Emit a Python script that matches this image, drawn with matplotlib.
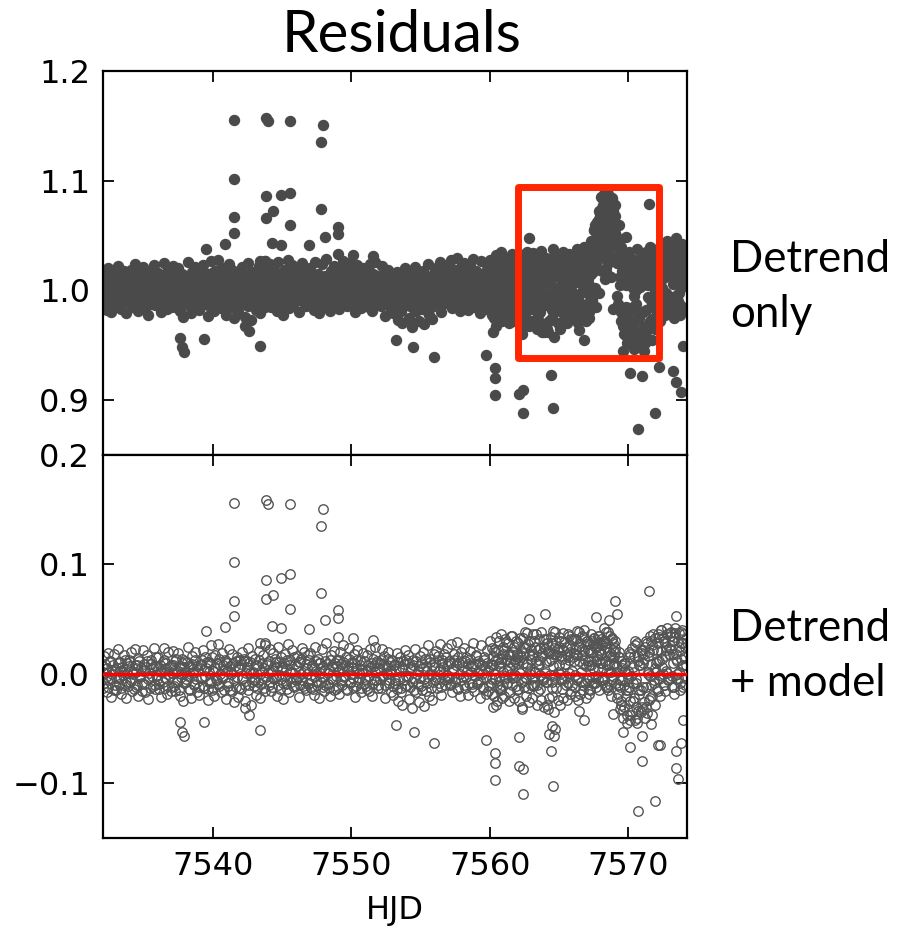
import numpy as np
import matplotlib.pyplot as plt
from matplotlib.patches import Rectangle

# ----------------------------
# Light curve
# times: HJD - 2457500 ; flux / residual in parts per thousand
# interleaved exposure sets (a, b, c); set c only covers the last two weeks
# ----------------------------
t_off_a = [
    32.02, 32.1, 32.18, 32.27, 32.35, 32.43, 32.52, 32.6, 32.68, 32.77, 32.85, 32.93,
    33.01, 33.09, 33.17, 33.26, 33.34, 33.42, 33.5, 33.59, 33.67, 33.76, 33.84, 33.97,
    34.05, 34.13, 34.2, 34.28, 34.37, 34.45, 34.53, 34.62, 34.7, 34.78, 34.87, 34.95,
    35.03, 35.11, 35.19, 35.27, 35.35, 35.44, 35.52, 35.7, 35.78, 35.85, 35.92, 35.98,
    36.06, 36.14, 36.22, 36.31, 36.39, 36.47, 36.56, 36.64, 36.72, 36.8, 36.89, 36.97,
    37.04, 37.12, 37.2, 37.29, 37.37, 37.45, 37.53, 37.62, 37.7, 37.79, 37.87, 37.95,
    38.02, 38.1, 38.19, 38.27, 38.35, 38.43, 38.51, 38.6, 38.68, 38.76, 38.85, 38.93,
    39.05, 39.13, 39.21, 39.3, 39.38, 39.46, 39.54, 39.63, 39.71, 39.79, 39.88, 39.96,
    40.03, 40.11, 40.2, 40.28, 40.36, 40.44, 40.53, 40.61, 40.69, 40.77, 40.86, 40.94,
    41.02, 41.1, 41.18, 41.27, 41.35, 41.43, 41.52, 41.6, 41.68, 41.76, 41.85, 41.93,
    42.04, 42.12, 42.21, 42.29, 42.37, 42.45, 42.54, 42.62, 42.7, 42.78, 42.87, 42.95,
    43.03, 43.11, 43.19, 43.28, 43.36, 43.44, 43.52, 43.61, 43.69, 43.77, 43.86, 43.94,
    44.05, 44.13, 44.22, 44.3, 44.38, 44.46, 44.55, 44.63, 44.71, 44.79, 44.88, 44.96,
    45.02, 45.1, 45.19, 45.27, 45.35, 45.43, 45.52, 45.6, 45.68, 45.76, 45.85, 45.93,
    46.04, 46.12, 46.2, 46.29, 46.37, 46.45, 46.53, 46.62, 46.7, 46.78, 46.87, 46.95,
    47.03, 47.11, 47.2, 47.28, 47.36, 47.44, 47.53, 47.61, 47.69, 47.77, 47.86, 47.94,
    48.05, 48.13, 48.21, 48.3, 48.38, 48.46, 48.54, 48.63, 48.71, 48.79, 48.88, 48.96,
    49.02, 49.1, 49.18, 49.27, 49.35, 49.43, 49.52, 49.6, 49.68, 49.76, 49.85, 49.93,
    50.04, 50.12, 50.2, 50.29, 50.37, 50.45, 50.53, 50.62, 50.7, 50.78, 50.87, 50.95,
    51.03, 51.11, 51.19, 51.28, 51.36, 51.44, 51.52, 51.61, 51.69, 51.77, 51.86, 51.94,
    52.05, 52.13, 52.22, 52.3, 52.38, 52.46, 52.55, 52.63, 52.71, 52.79, 52.88, 52.96,
    53.02, 53.1, 53.19, 53.27, 53.35, 53.43, 53.52, 53.6, 53.68, 53.76, 53.85, 53.93,
    54.04, 54.12, 54.2, 54.29, 54.37, 54.45, 54.53, 54.62, 54.7, 54.78, 54.87, 54.95,
    55.03, 55.11, 55.19, 55.28, 55.36, 55.44, 55.52, 55.61, 55.69, 55.77, 55.86, 55.94,
    56.05, 56.13, 56.22, 56.3, 56.38, 56.46, 56.55, 56.63, 56.71, 56.79, 56.88, 56.96,
    57.02, 57.1, 57.19, 57.27, 57.35, 57.43, 57.52, 57.6, 57.68, 57.76, 57.85, 57.93,
    58.04, 58.12, 58.2, 58.29, 58.37, 58.45, 58.53, 58.62, 58.7, 58.78, 58.87, 58.95,
    59.03, 59.11, 59.19, 59.28, 59.36, 59.44, 59.52, 59.61, 59.69, 59.77, 59.86, 59.94,
    60.05, 60.13, 60.22, 60.3, 60.38, 60.46, 60.55, 60.63, 60.71, 60.79, 60.88, 60.96,
    61.02, 61.1, 61.19, 61.27, 61.35, 61.43, 61.52, 61.6, 61.68, 61.76, 61.85, 61.93,
    62.04, 62.12, 62.2, 62.29, 62.37, 62.45, 62.53, 62.62, 62.7, 62.78, 62.87, 62.95,
    63.03, 63.11, 63.19, 63.28, 63.36, 63.44, 63.52, 63.61, 63.69, 63.77, 63.86, 63.94,
    64.05, 64.13, 64.22, 64.3, 64.38, 64.46, 64.55, 64.63, 64.71, 64.79, 64.88, 64.96,
    65.02, 65.1, 65.19, 65.27, 65.35, 65.43, 65.52, 65.6, 65.68, 65.76, 65.85, 65.93,
    66.04, 66.12, 66.2, 66.29, 66.37, 66.45, 66.53, 66.62, 66.7, 66.78, 66.87, 66.95,
    67.02, 67.07, 67.13, 67.18, 67.24, 67.29, 67.35, 67.4, 67.46, 67.51, 67.57, 67.62,
    67.68, 67.73, 67.79, 67.84, 67.9, 67.95,
    68.02, 68.07, 68.13, 68.18, 68.24, 68.29, 68.35, 68.4, 68.46, 68.51, 68.57, 68.62,
    68.68, 68.73, 68.79, 68.84, 68.9, 68.95,
    69.03, 69.11, 69.19, 69.28, 69.36, 69.44, 69.52, 69.61, 69.69, 69.77, 69.86, 69.94,
    70.05, 70.13, 70.22, 70.3, 70.38, 70.46, 70.55, 70.63, 70.71, 70.79, 70.88, 70.96,
    71.02, 71.1, 71.19, 71.27, 71.35, 71.43, 71.52, 71.6, 71.68, 71.76, 71.85, 71.93,
    72.04, 72.12, 72.2, 72.29, 72.37, 72.45, 72.53, 72.62, 72.7, 72.78, 72.87, 72.95,
    73.03, 73.11, 73.19, 73.28, 73.36, 73.44, 73.52, 73.61, 73.69, 73.77, 73.86, 73.94,
    74.02, 74.1, 74.18,
]

flux_a_ppt = [
    8, -12, 15, 2, -18, 20, -5, 11, -20, 4, 17, -9,
    -14, 6, 22, -3, 12, -17, 1, 18, -8, -21, 9, 14,
    -6, 19, -15, 3, 24, -11, 7, -19, 13, 0, -7, 21,
    10, -16, 5, 18, -22, -2, 14, -10, 23, -13, 8, -4,
    16, -8, 2, -20, 12, 25, -12, 6, -17, 19, -1, 9,
    -11, 22, 4, -15, 15, -6, 20, -19, 1, 11, -24, 7,
    13, -4, 26, -13, 8, -21, 17, 3, -9, 21, -16, 5,
    -18, 10, -2, 23, -12, 16, 6, -23, 12, -7, 27, -14,
    4, -19, 18, -5, 28, -10, 9, -16, 20, -1, 14, -22,
    11, -7, 24, -14, 3, 19, -25, 8, -11, 16, -20, 6,
    -13, 21, -3, 13, -24, 7, 25, -9, 2, -27, 17, -5,
    15, -18, 9, -6, 22, -21, 4, 18, -12, 27, -2, 11,
    -9, 24, -15, 5, 20, -4, 12, -19, 26, 0, -13, 16,
    7, -22, 19, -8, 14, 28, -16, 3, -3, 23, -11, 10,
    -5, 17, -20, 12, 1, 25, -10, 21, -14, 6, 18, -7,
    20, -12, 8, -18, 26, 4, -6, 15, -21, 11, 24, -2,
    -15, 13, 29, -8, 5, -19, 18, 9, -4, 22, -13, 14,
    3, -17, 21, 10, -9, 27, -1, 16, -14, 7, 25, -6,
    12, -11, 19, -20, 6, 23, -3, 14, -16, 2, 20, -8,
    -10, 18, 5, -15, 24, 11, -19, 8, 26, -5, 13, -12,
    9, -14, 22, -2, 15, -23, 7, 19, -9, 0, -18, 12,
    -21, 6, -8, 17, -27, 3, 13, -15, -30, 10, 20, -4,
    -12, 15, -25, 4, -33, 11, -6, 21, -19, 1, -28, 14,
    8, -17, 18, -31, 5, -10, 24, -22, 12, -3, -26, 16,
    -7, 20, -14, 2, 26, -20, 9, -1, 17, -11, 23, -5,
    13, -9, 28, -16, 6, 19, -4, 30, -13, 11, -19, 21,
    -2, 25, -12, 16, 4, -18, 22, 8, -8, 29, -15, 10,
    18, -6, 11, -21, 27, 1, -11, 14, -17, 23, 5, -9,
    -14, 20, 2, -25, 15, -32, 9, 26, -19, 6, -28, 12,
    17, -10, 24, -3, 10, -22, 30, -16, 4, 19, -8, 13,
    -20, 7, 28, -35, 14, -12, 33, -26, 3, 21, -6, 16,
    11, -17, 25, -4, 31, -22, 8, 18, -30, 14, -9, 27,
    -13, 22, -38, 6, 29, -25, 12, -7, 34, -19, 17, 2,
    20, -11, 9, -28, 24, 3, -16, 31, -5, 15, -22, 26,
    7, -18, 28, 12, -9, 35, -24, 18, 4, 30, -14, 22,
    -12, 28, 5, -20, 34, 15, -8, 42, 20, 55, 2, 48,
    -15, 30, 62, -2, 50, 70,
    62, 18, 78, 35, 88, 10, 70, 85, 50, 25, 65, 40,
    80, 12, 58, 30, 72, 45,
    68, 30, -5, 45, 12, -20, 36, -32, 8, 22, -48, 15,
    -20, 15, -42, 2, -30, 24, -12, -48, 8, -25, 18, -38,
    5, -33, 22, -18, -45, 12, -8, 28, -26, 35, -14, 0,
    18, -22, 30, -6, 38, 10, -15, 25, -2, 33, -11, 20,
    -9, 28, 6, -18, 35, 15, -4, 22, -13, 40, 3, 26,
    12, -16, 30,
]

resid_a_ppt = [
    7, -13, 16, 1, -17, 19, -6, 12, -21, 3, 18, -10,
    -15, 5, 23, -4, 11, -18, 2, 17, -9, -22, 10, 13,
    -7, 20, -16, 2, 23, -12, 8, -20, 12, -1, -8, 22,
    9, -17, 6, 17, -23, -3, 13, -11, 24, -14, 7, -5,
    15, -9, 3, -21, 11, 24, -13, 5, -18, 20, -2, 8,
    -12, 21, 3, -16, 14, -7, 19, -20, 0, 10, -25, 6,
    12, -5, 25, -14, 7, -22, 16, 2, -10, 20, -17, 4,
    -19, 9, -3, 22, -13, 15, 5, -24, 11, -8, 26, -15,
    3, -20, 17, -6, 27, -11, 8, -17, 19, -2, 13, -23,
    10, -8, 23, -15, 2, 18, -26, 7, -12, 15, -21, 5,
    -14, 20, -4, 12, -25, 6, 24, -10, 1, -28, 16, -6,
    14, -19, 8, -7, 21, -22, 3, 17, -13, 26, -3, 10,
    -10, 23, -16, 4, 19, -5, 11, -20, 25, -1, -14, 15,
    6, -23, 18, -9, 13, 27, -17, 2, -4, 22, -12, 9,
    -6, 16, -21, 11, 0, 24, -11, 20, -15, 5, 17, -8,
    19, -13, 7, -19, 25, 3, -7, 14, -22, 10, 23, -3,
    -16, 12, 28, -9, 4, -20, 17, 8, -5, 21, -14, 13,
    2, -18, 20, 9, -10, 26, -2, 15, -15, 6, 24, -7,
    11, -12, 18, -21, 5, 22, -4, 13, -17, 1, 19, -9,
    -11, 17, 4, -16, 23, 10, -20, 7, 25, -6, 12, -13,
    10, -13, 23, -1, 16, -22, 8, 20, -8, 1, -17, 13,
    -19, 8, -6, 19, -25, 5, 15, -13, -28, 12, 22, -2,
    -10, 17, -23, 6, -31, 13, -4, 23, -17, 3, -26, 16,
    10, -15, 20, -29, 7, -8, 26, -20, 14, -1, -24, 18,
    -6, 21, -13, 3, 27, -19, 10, 0, 18, -10, 24, -4,
    12, -10, 27, -17, 5, 18, -5, 29, -14, 10, -20, 20,
    -3, 24, -13, 15, 3, -19, 21, 7, -9, 28, -16, 9,
    17, -7, 10, -22, 26, 0, -12, 13, -18, 22, 4, -10,
    -8, 24, 8, -20, 20, -28, 14, 30, -12, 11, -22, 18,
    22, -4, 29, 3, 16, -17, 35, -10, 9, 25, -2, 18,
    -14, 13, 33, -30, 19, -6, 38, -20, 9, 27, 0, 22,
    16, -11, 30, 2, 36, -16, 13, 24, -24, 19, -3, 32,
    -7, 28, -32, 12, 34, -20, 18, -1, 38, -13, 23, 8,
    25, -5, 14, -22, 29, 9, -10, 36, 1, 20, -16, 31,
    12, -12, 32, 17, -3, 38, -18, 23, 9, 34, -8, 27,
    -6, 22, 8, -14, 27, 12, -3, 30, 5, 33, -8, 24,
    -12, 16, 35, -15, 20, 28,
    18, -6, 30, 5, 42, -10, 25, 38, 8, -15, 20, 2,
    35, -20, 15, -5, 28, 10,
    20, -8, -22, 15, -12, -28, 8, -33, -10, 3, -38, -5,
    -12, 18, -35, 6, -22, 26, -5, -40, 12, -18, 22, -30,
    10, -26, 25, -12, -36, 16, -2, 30, -20, 36, -8, 5,
    22, -16, 34, -1, 40, 14, -10, 28, 3, 36, -5, 24,
    -4, 30, 10, -12, 37, 18, 0, 25, -8, 38, 7, 28,
    15, -10, 32,
]

t_off_b = [
    32.06, 32.14, 32.23, 32.31, 32.4, 32.48, 32.56, 32.65, 32.73, 32.81, 32.9, 32.98,
    33.06, 33.14, 33.23, 33.31, 33.4, 33.48, 33.56, 33.65, 33.73, 33.81, 33.9, 33.98,
    34.06, 34.14, 34.23, 34.31, 34.4, 34.48, 34.56, 34.65, 34.73, 34.81, 34.9, 34.98,
    35.06, 35.14, 35.23, 35.31, 35.4, 35.48, 35.56, 35.65, 35.73, 35.81, 35.9, 35.98,
    36.06, 36.14, 36.23, 36.31, 36.4, 36.48, 36.56, 36.65, 36.73, 36.81, 36.9, 36.98,
    37.06, 37.14, 37.23, 37.31, 37.4, 37.48, 37.56, 37.65, 37.73, 37.81, 37.9, 37.98,
    38.06, 38.14, 38.23, 38.31, 38.4, 38.48, 38.56, 38.65, 38.73, 38.81, 38.9, 38.98,
    39.06, 39.14, 39.23, 39.31, 39.4, 39.48, 39.56, 39.65, 39.73, 39.81, 39.9, 39.98,
    40.06, 40.14, 40.23, 40.31, 40.4, 40.48, 40.56, 40.65, 40.73, 40.81, 40.9, 40.98,
    41.06, 41.14, 41.23, 41.31, 41.4, 41.48, 41.56, 41.65, 41.73, 41.81, 41.9, 41.98,
    42.06, 42.14, 42.23, 42.31, 42.4, 42.48, 42.56, 42.65, 42.73, 42.81, 42.9, 42.98,
    43.06, 43.14, 43.23, 43.31, 43.4, 43.48, 43.56, 43.65, 43.73, 43.81, 43.9, 43.98,
    44.06, 44.14, 44.23, 44.31, 44.4, 44.48, 44.56, 44.65, 44.73, 44.81, 44.9, 44.98,
    45.06, 45.14, 45.23, 45.31, 45.4, 45.48, 45.56, 45.65, 45.73, 45.81, 45.9, 45.98,
    46.06, 46.14, 46.23, 46.31, 46.4, 46.48, 46.56, 46.65, 46.73, 46.81, 46.9, 46.98,
    47.06, 47.14, 47.23, 47.31, 47.4, 47.48, 47.56, 47.65, 47.73, 47.81, 47.9, 47.98,
    48.06, 48.14, 48.23, 48.31, 48.4, 48.48, 48.56, 48.65, 48.73, 48.81, 48.9, 48.98,
    49.06, 49.14, 49.23, 49.31, 49.4, 49.48, 49.56, 49.65, 49.73, 49.81, 49.9, 49.98,
    50.06, 50.14, 50.23, 50.31, 50.4, 50.48, 50.56, 50.65, 50.73, 50.81, 50.9, 50.98,
    51.06, 51.14, 51.23, 51.31, 51.4, 51.48, 51.56, 51.65, 51.73, 51.81, 51.9, 51.98,
    52.06, 52.14, 52.23, 52.31, 52.4, 52.48, 52.56, 52.65, 52.73, 52.81, 52.9, 52.98,
    53.06, 53.14, 53.23, 53.31, 53.4, 53.48, 53.56, 53.65, 53.73, 53.81, 53.9, 53.98,
    54.06, 54.14, 54.23, 54.31, 54.4, 54.48, 54.56, 54.65, 54.73, 54.81, 54.9, 54.98,
    55.06, 55.14, 55.23, 55.31, 55.4, 55.48, 55.56, 55.65, 55.73, 55.81, 55.9, 55.98,
    56.06, 56.14, 56.23, 56.31, 56.4, 56.48, 56.56, 56.65, 56.73, 56.81, 56.9, 56.98,
    57.06, 57.14, 57.23, 57.31, 57.4, 57.48, 57.56, 57.65, 57.73, 57.81, 57.9, 57.98,
    58.06, 58.14, 58.23, 58.31, 58.4, 58.48, 58.56, 58.65, 58.73, 58.81, 58.9, 58.98,
    59.06, 59.14, 59.23, 59.31, 59.4, 59.48, 59.56, 59.65, 59.73, 59.81, 59.9, 59.98,
    60.06, 60.14, 60.23, 60.31, 60.4, 60.48, 60.56, 60.65, 60.73, 60.81, 60.9, 60.98,
    61.06, 61.14, 61.23, 61.31, 61.4, 61.48, 61.56, 61.65, 61.73, 61.81, 61.9, 61.98,
    62.06, 62.14, 62.23, 62.31, 62.4, 62.48, 62.56, 62.65, 62.73, 62.81, 62.9, 62.98,
    63.06, 63.14, 63.23, 63.31, 63.4, 63.48, 63.56, 63.65, 63.73, 63.81, 63.9, 63.98,
    64.06, 64.14, 64.23, 64.31, 64.4, 64.48, 64.56, 64.65, 64.73, 64.81, 64.9, 64.98,
    65.06, 65.14, 65.23, 65.31, 65.4, 65.48, 65.56, 65.65, 65.73, 65.81, 65.9, 65.98,
    66.06, 66.14, 66.23, 66.31, 66.4, 66.48, 66.56, 66.65, 66.73, 66.81, 66.9, 66.98,
    67.06, 67.14, 67.23, 67.31, 67.4, 67.48, 67.56, 67.65, 67.73, 67.81, 67.9, 67.98,
    68.06, 68.14, 68.23, 68.31, 68.4, 68.48, 68.56, 68.65, 68.73, 68.81, 68.9, 68.98,
    69.06, 69.14, 69.23, 69.31, 69.4, 69.48, 69.56, 69.65, 69.73, 69.81, 69.9, 69.98,
    70.06, 70.14, 70.23, 70.31, 70.4, 70.48, 70.56, 70.65, 70.73, 70.81, 70.9, 70.98,
    71.06, 71.14, 71.23, 71.31, 71.4, 71.48, 71.56, 71.65, 71.73, 71.81, 71.9, 71.98,
    72.06, 72.14, 72.23, 72.31, 72.4, 72.48, 72.56, 72.65, 72.73, 72.81, 72.9, 72.98,
    73.06, 73.14, 73.23, 73.31, 73.4, 73.48, 73.56, 73.65, 73.73, 73.81, 73.9, 73.98,
    74.06, 74.14,
]

flux_b_ppt = [
    3, -7, 10, -2, 6, -11, 13, -4, 1, 9, -14, 5,
    -3, 11, -8, 4, -12, 7, 0, 14, -6, 2, -10, 8,
    12, -5, 1, -13, 9, 3, -9, 15, -2, 6, -15, 4,
    -8, 5, 13, -4, 2, -12, 10, -1, 7, -9, 16, 0,
    6, -13, 9, 3, -6, 14, -3, 11, -10, 1, 7, -15,
    2, 9, -10, 13, -5, 4, -14, 8, -2, 15, -7, 3,
    -6, 12, -1, 7, -14, 10, 2, -8, 14, -4, 8, -11,
    9, -3, 14, -10, 5, -1, 12, -13, 3, 10, -6, 16,
    -12, 6, -4, 11, -8, 15, 1, -3, 9, -14, 5, 12,
    4, -10, 8, 1, -15, 11, -5, 13, -2, 7, -12, 14,
    10, -4, 15, -9, 2, 13, -14, 5, 12, -6, 3, -10,
    -5, 8, -12, 14, 1, -8, 11, -3, 6, -15, 9, 2,
    13, -6, 3, -11, 8, 15, -2, 7, -9, 12, -4, 6,
    -7, 11, -1, 5, -13, 9, 14, -6, 3, -10, 16, -3,
    8, -2, 12, -9, 15, -5, 4, -12, 10, 1, -8, 14,
    -4, 9, -13, 6, -1, 13, -9, 11, 2, -6, 7, -11,
    5, -9, 10, 2, -12, 14, -3, 7, -14, 11, -1, 8,
    -11, 14, -5, 6, 12, -2, 9, -13, 4, 15, -7, 1,
    7, -3, 11, -10, 14, -6, 2, 9, -12, 5, 13, -4,
    4, -13, 9, -1, 7, -8, 15, -5, 3, 11, -9, 6,
    -6, 12, -3, 8, -11, 5, -1, 13, -7, 10, 2, -12,
    6, -10, 1, -16, 9, -5, -19, 4, -8, 7, -13, 11,
    -4, 8, -14, 2, -9, 6, -17, 10, -2, -11, 5, -6,
    -13, 3, -7, 12, -18, 1, -5, 9, -15, 6, -9, 4,
    10, -4, 15, -9, 3, -13, 12, 5, -7, 14, -2, 8,
    -3, 11, -8, 4, 14, -6, 9, -12, 16, 1, -5, 12,
    7, -9, 13, -2, 10, -7, 15, 3, -11, 8, -1, 17,
    -8, 13, 2, -5, 9, -12, 16, 6, -3, 11, -15, 7,
    5, -10, 12, -4, 8, -15, 18, -7, 3, -18, 10, -2,
    -6, 9, -13, 14, 1, 7, -9, 16, -4, 10, -16, 6,
    11, -3, 17, -12, 6, 20, -8, 2, -18, 13, -1, 9,
    -9, 14, -2, 8, -15, 19, 4, -6, 12, -11, 21, -3,
    7, -12, 15, -5, 10, -18, 3, 20, -8, 13, -2, 16,
    -4, 12, -10, 18, 5, -7, 14, -13, 9, 22, -1, 11,
    15, -6, 20, -11, 8, 25, -2, 13, -15, 18, 3, 28,
    10, 35, -5, 25, 45, 18, 60, 30, 52, 40, 65, 58,
    75, 45, 82, 60, 20, 78, 55, 32, 68, 84, 48, 62,
    52, 25, -12, 38, 5, -28, 18, -40, 30, -15, 10, -25,
    8, -32, 20, -15, -5, 28, -38, 12, -22, 3, -45, 15,
    -20, 10, -38, 25, -6, 16, -28, 5, 22, -12, 30, -3,
    8, 25, -10, 18, 2, 30, -16, 12, 22, -4, 15, 35,
    20, -6, 15, 32, -10, 8, 28, -2, 18, 10, -16, 34,
    22, 5,
]

resid_b_ppt = [
    2, -8, 9, -3, 5, -12, 12, -5, 0, 8, -15, 4,
    -4, 10, -9, 3, -13, 6, -1, 13, -7, 1, -11, 7,
    11, -6, 0, -14, 8, 2, -10, 14, -3, 5, -16, 3,
    -9, 4, 12, -5, 1, -13, 9, -2, 6, -10, 15, -1,
    5, -14, 8, 2, -7, 13, -4, 10, -11, 0, 6, -16,
    1, 8, -11, 12, -6, 3, -15, 7, -3, 14, -8, 2,
    -7, 11, -2, 6, -15, 9, 1, -9, 13, -5, 7, -12,
    8, -4, 13, -11, 4, -2, 11, -14, 2, 9, -7, 15,
    -13, 5, -5, 10, -9, 14, 0, -4, 8, -15, 4, 11,
    3, -11, 7, 0, -16, 10, -6, 12, -3, 6, -13, 13,
    9, -5, 14, -10, 1, 12, -15, 4, 11, -7, 2, -11,
    -6, 7, -13, 13, 0, -9, 10, -4, 5, -16, 8, 1,
    12, -7, 2, -12, 7, 14, -3, 6, -10, 11, -5, 5,
    -8, 10, -2, 4, -14, 8, 13, -7, 2, -11, 15, -4,
    7, -3, 11, -10, 14, -6, 3, -13, 9, 0, -9, 13,
    -5, 8, -14, 5, -2, 12, -10, 10, 1, -7, 6, -12,
    4, -10, 9, 1, -13, 13, -4, 6, -15, 10, -2, 7,
    -12, 13, -6, 5, 11, -3, 8, -14, 3, 14, -8, 0,
    6, -4, 10, -11, 13, -7, 1, 8, -13, 4, 12, -5,
    3, -14, 8, -2, 6, -9, 14, -6, 2, 10, -10, 5,
    -5, 13, -2, 9, -10, 6, 0, 14, -6, 11, 3, -11,
    8, -8, 3, -14, 11, -3, -17, 6, -6, 9, -11, 13,
    -2, 10, -12, 4, -7, 8, -15, 12, 0, -9, 7, -4,
    -11, 5, -5, 14, -16, 3, -3, 11, -13, 8, -7, 6,
    11, -3, 16, -8, 4, -12, 13, 6, -6, 15, -1, 9,
    -4, 10, -9, 3, 13, -7, 8, -13, 15, 0, -6, 11,
    6, -10, 12, -3, 9, -8, 14, 2, -12, 7, -2, 16,
    -9, 12, 1, -6, 8, -13, 15, 5, -4, 10, -16, 6,
    9, -5, 16, 0, 12, -10, 22, -3, 7, -14, 14, 2,
    -2, 13, -8, 18, 5, 11, -4, 20, 0, 14, -11, 10,
    15, 1, 21, -7, 10, 24, -3, 6, -13, 17, 3, 13,
    -4, 18, 2, 12, -10, 22, 8, -1, 16, -6, 25, 1,
    11, -7, 19, -1, 14, -13, 7, 24, -3, 17, 2, 20,
    0, 16, -5, 22, 9, -2, 18, -8, 13, 26, 3, 15,
    19, -1, 23, -6, 12, 28, 2, 17, -10, 21, 7, 30,
    12, -4, -15, 8, 20, -8, 25, -2, 14, 5, 22, 10,
    26, -3, 30, 12, -12, 28, 8, -10, 18, 32, -2, 15,
    24, 2, -18, 15, -6, -25, 5, -30, 10, -20, 0, -15,
    15, -25, 24, -8, 2, 30, -30, 16, -15, 8, -35, 19,
    -12, 14, -30, 28, 0, 20, -22, 9, 26, -6, 33, 2,
    12, 28, -5, 21, 6, 33, -10, 16, 25, 1, 18, 37,
    23, -2, 18, 34, -5, 12, 30, 2, 21, 14, -12, 36,
    25, 8,
]

t_off_c = [
    60.04, 60.12, 60.21, 60.29, 60.38, 60.46, 60.54, 60.63, 60.71, 60.79, 60.88, 60.96,
    61.04, 61.12, 61.21, 61.29, 61.38, 61.46, 61.54, 61.63, 61.71, 61.79, 61.88, 61.96,
    62.04, 62.12, 62.21, 62.29, 62.38, 62.46, 62.54, 62.63, 62.71, 62.79, 62.88, 62.96,
    63.04, 63.12, 63.21, 63.29, 63.38, 63.46, 63.54, 63.63, 63.71, 63.79, 63.88, 63.96,
    64.04, 64.12, 64.21, 64.29, 64.38, 64.46, 64.54, 64.63, 64.71, 64.79, 64.88, 64.96,
    65.04, 65.12, 65.21, 65.29, 65.38, 65.46, 65.54, 65.63, 65.71, 65.79, 65.88, 65.96,
    66.04, 66.12, 66.21, 66.29, 66.38, 66.46, 66.54, 66.63, 66.71, 66.79, 66.88, 66.96,
    67.04, 67.12, 67.21, 67.29, 67.38, 67.46, 67.54, 67.63, 67.71, 67.79, 67.88, 67.96,
    68.04, 68.12, 68.21, 68.29, 68.38, 68.46, 68.54, 68.63, 68.71, 68.79, 68.88, 68.96,
    69.04, 69.12, 69.21, 69.29, 69.38, 69.46, 69.54, 69.63, 69.71, 69.79, 69.88, 69.96,
    70.04, 70.12, 70.21, 70.29, 70.38, 70.46, 70.54, 70.63, 70.71, 70.79, 70.88, 70.96,
    71.04, 71.12, 71.21, 71.29, 71.38, 71.46, 71.54, 71.63, 71.71, 71.79, 71.88, 71.96,
    72.04, 72.12, 72.21, 72.29, 72.38, 72.46, 72.54, 72.63, 72.71, 72.79, 72.88, 72.96,
    73.04, 73.12, 73.21, 73.29, 73.38, 73.46, 73.54, 73.63, 73.71, 73.79, 73.88, 73.96,
]

flux_c_ppt = [
    28, -22, -38, 18, -10, 32, -30, 5, -20, 35, -15, 22,
    -25, 30, -12, 26, -30, 15, -5, 33, -28, 8, 28, -20,
    25, -30, 12, -40, 30, -18, 22, -8, 35, -32, 28, -15,
    -28, 34, -15, 22, -35, 5, 30, -20, 36, -10, -38, 20,
    30, -35, 18, -28, 25, -12, 38, -42, 15, 26, -30, 32,
    -35, 28, -20, 35, -10, 22, -30, 12, 33, -25, 30, -15,
    30, -25, 15, 38, -30, 22, -12, 33, -20, 40, 10, -28,
    35, -25, 20, 45, -10, 30, 55, 25, 62, 40, 72, 50,
    85, 58, 30, 80, 75, 15, 88, 62, 45, 82, 70, 55,
    78, 50, 25, 60, -15, 40, 15, -30, 30, 5, -42, 20,
    35, -45, 10, -30, 25, -50, 0, 38, -40, 15, -20, 30,
    -40, 22, -48, 35, 5, -30, 40, -15, -45, 25, -35, 12,
    -20, 38, 10, -28, 42, -5, 30, -22, 20, 45, -12, 35,
    40, -18, 30, -25, 45, 12, -10, 38, -22, 28, 42, 5,
]

resid_c_ppt = [
    30, -18, -30, 22, -5, 34, -25, 10, -15, 36, -10, 25,
    -20, 32, -8, 28, -25, 18, 0, 35, -22, 12, 30, -15,
    28, -25, 15, -32, 33, -12, 25, -4, 37, -26, 30, -10,
    -22, 36, -10, 25, -28, 9, 32, -14, 38, -5, -30, 23,
    32, -28, 21, -22, 28, -7, 39, -35, 18, 29, -24, 34,
    -28, 30, -14, 37, -5, 25, -24, 15, 35, -18, 32, -10,
    32, -20, 18, 39, -24, 25, -7, 35, -15, 40, 13, -22,
    30, -18, 22, 36, -8, 26, 33, 12, 28, -5, 35, 18,
    32, 10, -6, 30, 28, -12, 38, 16, 2, 33, 22, 8,
    30, 6, -10, 20, -32, 12, -6, -40, 10, -15, -45, 3,
    20, -38, -2, -25, 16, -42, -8, 28, -34, 8, -15, 22,
    -32, 18, -40, 30, 2, -24, 35, -10, -38, 22, -28, 10,
    -14, 36, 12, -20, 40, 0, 30, -16, 22, 42, -6, 35,
    38, -12, 30, -18, 42, 14, -4, 37, -15, 28, 40, 8,
]

# isolated points (flares and dips) read separately
top_out_t = [7541.56, 7543.82, 7543.97, 7545.6, 7547.97, 7547.83, 7541.56, 7543.82,
             7544.9, 7545.6, 7547.83, 7541.56, 7543.82, 7544.37, 7545.6, 7541.56,
             7548.1, 7549.06, 7549.06, 7540.9, 7539.5, 7544.3, 7544.9, 7546.96,
             7549.06, 7550.1, 7551.56, 7543.4, 7543.75, 7537.64, 7537.8, 7537.9,
             7539.4, 7543.4, 7542.3, 7542.6, 7553.2, 7554.47, 7556.0, 7559.75,
             7560.4, 7560.4, 7560.4, 7562.1, 7562.4, 7562.4, 7564.4, 7564.55,
             7563.75, 7566.8, 7570.1, 7571.0, 7570.7, 7571.9, 7572.2, 7573.4,
             7573.8, 7573.2, 7573.9, 7571.48, 7568.9, 7569.8, 7573.45, 7562.8,
             7566.4, 7569.8, 7570.1, 7569.6, 7570.4, 7571.1]
top_out_f = [1.155, 1.157, 1.154, 1.154, 1.151, 1.135, 1.1015, 1.086,
             1.087, 1.089, 1.074, 1.067, 1.066, 1.072, 1.060, 1.052,
             1.049, 1.058, 1.051, 1.042, 1.038, 1.043, 1.0415, 1.041,
             1.033, 1.032, 1.031, 1.027, 1.027, 0.957, 0.948, 0.944,
             0.956, 0.949, 0.9675, 0.963, 0.9545, 0.9485, 0.939, 0.941,
             0.929, 0.920, 0.9045, 0.906, 0.9097, 0.8885, 0.923, 0.893,
             0.962, 0.955, 0.925, 0.922, 0.874, 0.8885, 0.930, 0.9167,
             0.9075, 0.927, 0.949, 1.079, 0.983, 1.049, 1.048, 1.048,
             0.964, 0.965, 0.956, 0.945, 0.947, 0.945]

bot_out_t = [7541.56, 7543.82, 7543.97, 7545.6, 7547.97, 7547.83, 7541.56, 7543.82,
             7544.9, 7545.6, 7547.83, 7541.56, 7543.82, 7544.37, 7545.6, 7541.56,
             7548.1, 7549.06, 7549.06, 7540.9, 7539.5, 7544.3, 7544.9, 7546.96,
             7549.06, 7550.1, 7551.56, 7543.4, 7543.75, 7537.64, 7537.8, 7537.9,
             7539.4, 7543.4, 7542.3, 7542.6, 7553.2, 7554.5, 7556.0, 7559.75,
             7560.4, 7560.4, 7560.4, 7562.1, 7562.1, 7562.4, 7562.4, 7564.3,
             7564.6, 7564.4, 7564.55, 7564.5, 7564.7, 7566.4, 7566.8, 7568.9,
             7569.6, 7570.1, 7571.0, 7570.7, 7571.9, 7572.1, 7572.3, 7571.0,
             7571.6, 7573.4, 7573.6, 7573.4, 7573.8, 7573.9, 7570.1, 7570.6,
             7571.48, 7569.0, 7569.2, 7568.6, 7567.65, 7563.95, 7562.8, 7573.4]
bot_out_r = [0.1566, 0.1587, 0.1548, 0.155, 0.151, 0.1355, 0.102, 0.086,
             0.088, 0.0915, 0.074, 0.067, 0.0685, 0.072, 0.0596, 0.053,
             0.049, 0.058, 0.051, 0.043, 0.039, 0.044, 0.042, 0.041,
             0.034, 0.033, 0.031, 0.028, 0.028, -0.044, -0.053, -0.057,
             -0.044, -0.051, -0.0315, -0.0376, -0.047, -0.053, -0.0636, -0.060,
             -0.072, -0.081, -0.097, -0.058, -0.084, -0.0865, -0.1095, -0.055,
             -0.057, -0.0706, -0.1025, -0.048, -0.050, -0.034, -0.042, -0.037,
             -0.053, -0.0667, -0.0795, -0.125, -0.116, -0.065, -0.065, -0.0566,
             -0.046, -0.0856, -0.0957, -0.0706, -0.0636, -0.042, -0.042, -0.045,
             0.0755, 0.067, 0.055, 0.049, 0.052, 0.055, 0.050, 0.053]

# highlighted window in the upper panel
box_t0, box_t1 = 7562.0, 7572.18
box_f0, box_f1 = 0.938, 1.094

hjd = 7500 + np.concatenate([t_off_a, t_off_b, t_off_c])
flux = 1 + np.concatenate([flux_a_ppt, flux_b_ppt, flux_c_ppt]) / 1000.0
resid = np.concatenate([resid_a_ppt, resid_b_ppt, resid_c_ppt]) / 1000.0

dot_color = "#4a4a4a"
ring_color = "#555555"

fig = plt.figure(figsize=(9.05, 9.33), dpi=100)
ax1 = fig.add_axes([0.1135, 0.5123, 0.6453, 0.4116])
ax2 = fig.add_axes([0.1135, 0.1018, 0.6453, 0.4105], sharex=ax1)

# ----------------------------
# Upper panel: detrended light curve
# ----------------------------
ax1.plot(np.concatenate([hjd, top_out_t]), np.concatenate([flux, top_out_f]),
         "o", ms=7.2, color=dot_color, mec=dot_color)
ax1.add_patch(Rectangle((box_t0, box_f0), box_t1 - box_t0, box_f1 - box_f0,
                        fill=False, ec="#ff2600", lw=5, joinstyle="round", zorder=5))

# ----------------------------
# Lower panel: residuals after model
# ----------------------------
ax2.plot(np.concatenate([hjd, bot_out_t]), np.concatenate([resid, bot_out_r]),
         "o", ms=6.8, mfc="none", mec=ring_color, mew=1.0)
ax2.axhline(0.0, color="red", lw=2.5, zorder=4)

ax1.set_xlim(7532.07, 7574.2)
ax1.set_ylim(0.85, 1.2)
ax1.set_yticks([0.9, 1.0, 1.1, 1.2])
ax2.set_ylim(-0.15, 0.2)
ax2.set_yticks([-0.1, 0.0, 0.1, 0.2])
ax2.set_xticks([7540, 7550, 7560, 7570])
ax2.set_xlabel("HJD", fontsize=23, labelpad=10)

for ax in (ax1, ax2):
    ax.tick_params(direction="in", length=8, width=1.3, top=True, right=True,
                   labelsize=23, pad=9)
    for sp in ax.spines.values():
        sp.set_linewidth(1.6)
ax1.tick_params(labelbottom=False)

fig.text(0.444, 1 - 52 / 933, "Residuals", fontsize=42, family="Lato",
         ha="center", va="baseline")
fig.text(730 / 905, 1 - 272 / 933, "Detrend", fontsize=31.5, family="Lato", va="baseline")
fig.text(730 / 905, 1 - 327 / 933, "only", fontsize=31.5, family="Lato", va="baseline")
fig.text(730 / 905, 1 - 641 / 933, "Detrend", fontsize=31.5, family="Lato", va="baseline")
fig.text(730 / 905, 1 - 696 / 933, "+ model", fontsize=31.5, family="Lato", va="baseline")

fig.savefig("out.png", dpi=100)
